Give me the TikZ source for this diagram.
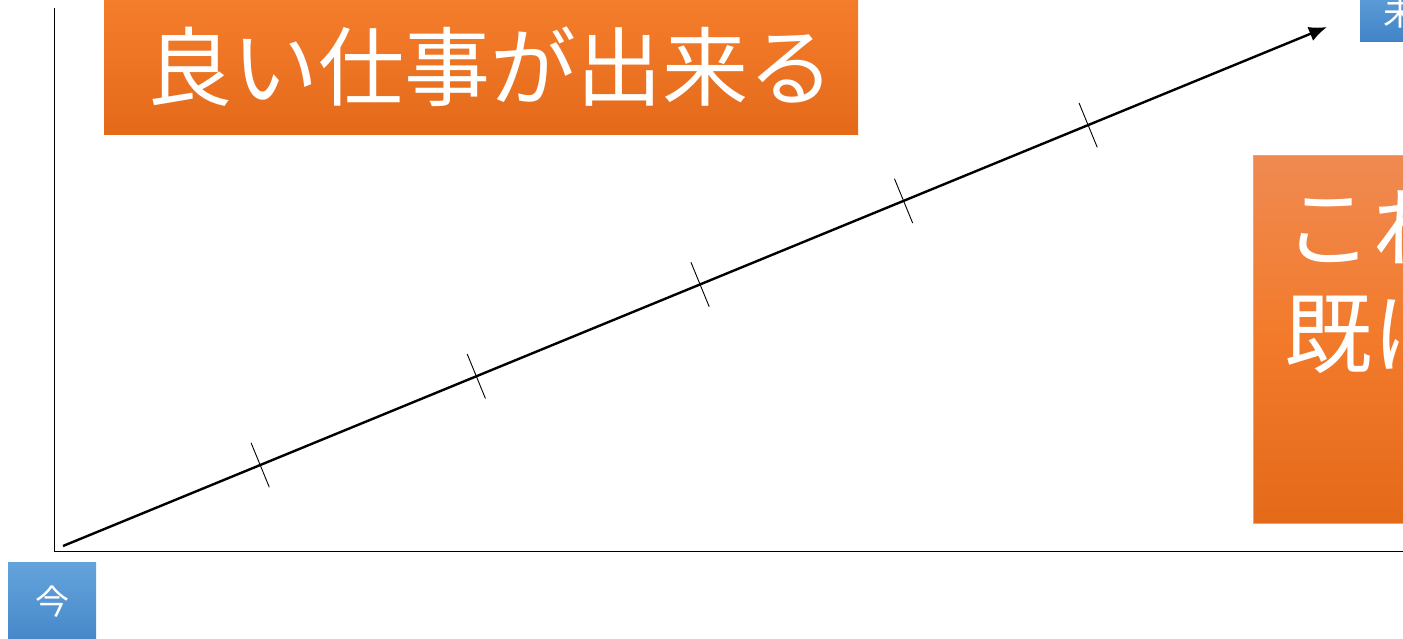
\documentclass[tikz,border=0pt]{standalone}
\usepackage{fontspec}
\newfontfamily\jp{Noto Sans CJK JP}
\usetikzlibrary{calc,arrows.meta}
\definecolor{orTop}{HTML}{F47D2C}
\definecolor{orBot}{HTML}{E46A1A}
\definecolor{orLight}{HTML}{F08A52}
\definecolor{orMid}{HTML}{F27A2A}
\definecolor{orEdge}{HTML}{F2A070}
\definecolor{blTop}{HTML}{64A4DC}
\definecolor{blBot}{HTML}{4283C7}
\tikzset{
  orbox/.style={rectangle, inner sep=0pt, top color=orTop, bottom color=orBot, text=white},
  orbox2/.style={rectangle, inner sep=0pt, top color=orLight, bottom color=orBot, middle color=orMid, draw=orEdge, line width=0.8pt},
  blbox/.style={rectangle, inner sep=0pt, top color=blTop, bottom color=blBot, text=white},
  axis/.style={line width=1pt, black},
  trend/.style={line width=2.4pt, black, -{Latex[length=18pt,width=15pt]}},
  tickmark/.style={line width=0.9pt, black},
  jtext/.style={text=white, inner sep=0pt, anchor=base west}
}
\begin{document}
\begin{tikzpicture}[x=1pt,y=-1pt]
\useasboundingbox (0,0) rectangle (1403,638);
\clip (0,0) rectangle (1403,638);
% boxes
\node[orbox, minimum width=754pt, minimum height=134pt, anchor=north west] (good) at (104,0) {};
\node[text=white, inner sep=0pt, font=\jp\fontsize{86}{86}\selectfont] (goodtxt) at (490,67) {良い仕事が出来る};
\node[orbox2, minimum width=170pt, minimum height=368pt, anchor=north west] (right) at (1253,155) {};
\node[jtext, font=\jp\fontsize{88}{88}\selectfont] (r1) at (1284,260) {これから};
\node[jtext, font=\jp\fontsize{88}{88}\selectfont] (r2) at (1284,366) {既にある};
\node[blbox, minimum width=88pt, minimum height=90pt, anchor=north west] (now) at (8,562) {};
\node[text=white, inner sep=0pt, font=\jp\fontsize{34}{34}\selectfont] (nowtxt) at (52,602) {今};
\node[blbox, minimum width=80pt, minimum height=60pt, anchor=south west] (future) at (1360,42) {};
\node[jtext, font=\jp\fontsize{34}{34}\selectfont] (futtxt) at (1383,25) {未来};
% axes
\coordinate (o) at (54,551);
\coordinate (ytop) at (54,8);
\coordinate (xend) at (1410,551);
\draw[axis] (ytop) -- (o) -- (xend);
% trend arrow
\coordinate (s) at (63,546);
\coordinate (e) at (1327,27);
\draw[trend] (s) -- (e);
% ticks
\foreach \t/\n in {0.156/a,0.327/b,0.504/c,0.665/d,0.811/f}{
  \coordinate (p\n) at ($(s)!\t!(e)$);
  \draw[tickmark] ($(p\n)!24pt!90:(e)$) -- ($(p\n)!24pt!-90:(e)$);
}
\end{tikzpicture}
\end{document}
